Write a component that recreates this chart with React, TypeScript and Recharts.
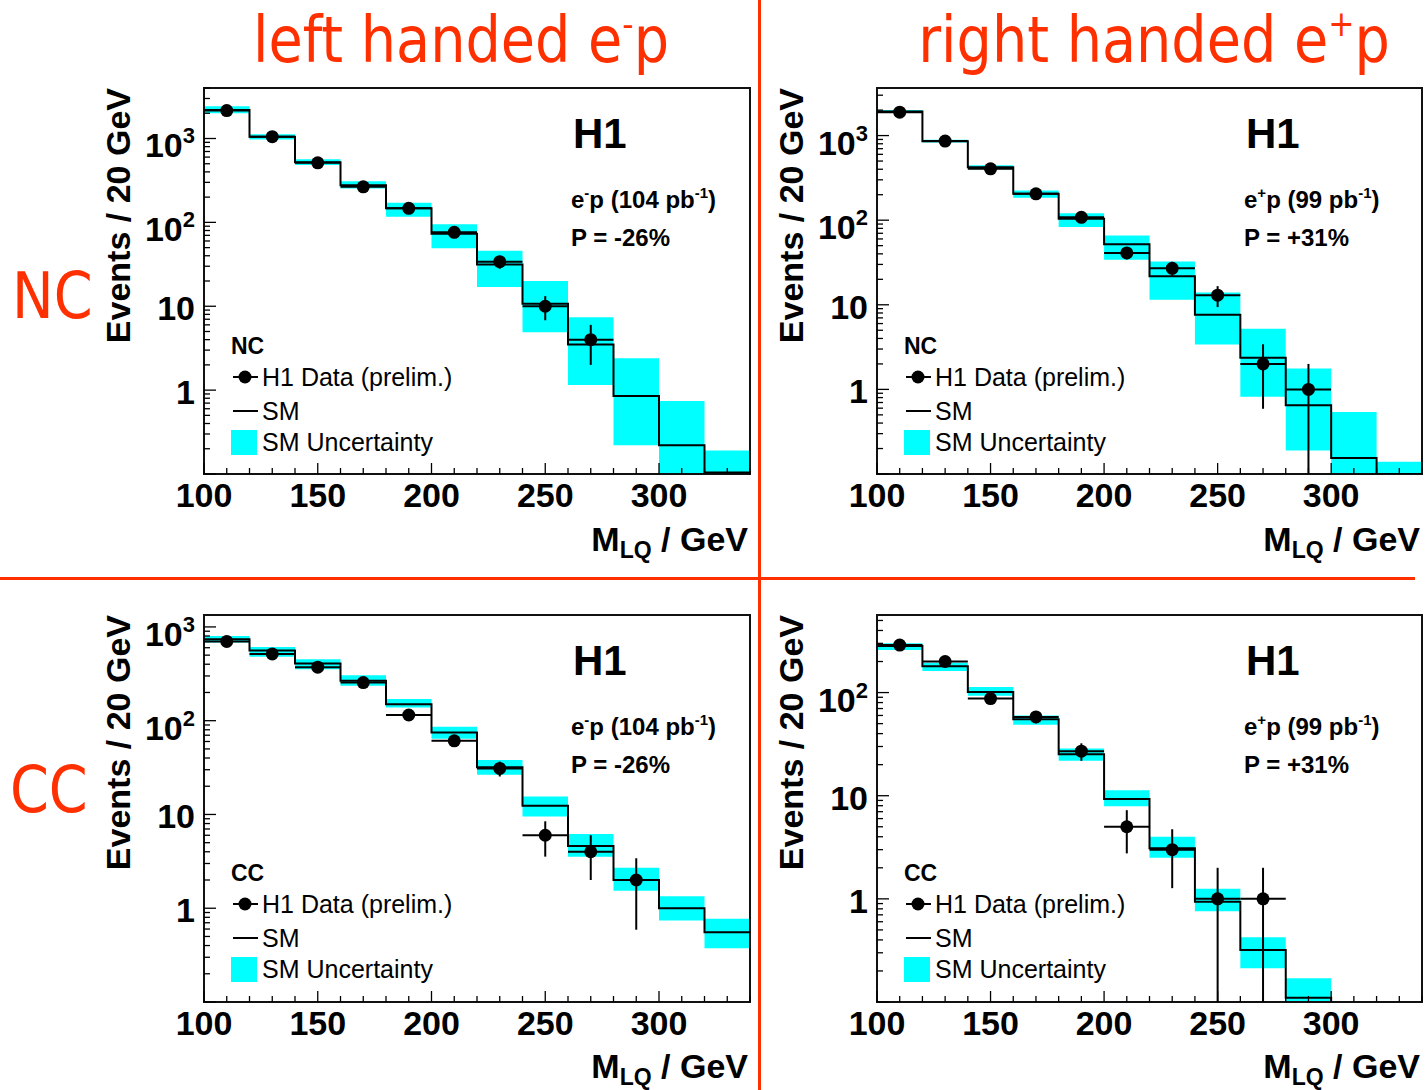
import { Area, ComposedChart, ErrorBar, Line, ReferenceArea, Scatter, XAxis, YAxis } from 'recharts';

// H1 leptoquark search: M_LQ spectra, NC/CC for left-handed e-p and right-handed e+p

const BIN_EDGES = [100, 120, 140, 160, 180, 200, 220, 240, 260, 280, 300, 320, 340];
const BIN_CENTERS = [110, 130, 150, 170, 190, 210, 230, 250, 270, 290, 310, 330];
const HALF_BIN = 10;
const X_TICKS = [100, 110, 120, 130, 140, 150, 160, 170, 180, 190, 200, 210, 220, 230, 240, 250, 260, 270, 280, 290, 300, 310, 320, 330, 340];
const X_LABELS = [100, 150, 200, 250, 300];
const LOG_DECADES = [0.1, 1, 10, 100, 1000];
const LOG_MINOR = [2, 3, 4, 5, 6, 7, 8, 9];

// NC, e-p (104 pb-1)
const ncLeftSm = [2180, 1050, 520, 278, 147, 73, 31.5, 10.7, 3.5, 0.85, 0.22, 0.104];
const ncLeftLo = [2000, 975, 482, 254, 117, 49, 17, 4.9, 1.15, 0.22, 0.05, 0.05];
const ncLeftHi = [2420, 1125, 567, 310, 171, 95, 46, 20, 7.4, 2.4, 0.74, 0.19];
const ncLeftData = [2150, 1050, 513, 265, 147, 76, 34, 10, 4];
const ncLeftErr = [[46, 46], [32, 32], [23, 23], [16, 16], [12, 12], [9, 9], [6, 6], [3.2, 3.2], [2, 2]];

// NC, e+p (99 pb-1)
const ncRightSm = [1920, 857, 423, 205, 104, 52, 21.8, 7.6, 2.37, 0.65, 0.155, 0.1];
const ncRightLo = [1850, 830, 400, 184, 83, 34, 11.5, 3.4, 0.82, 0.19, 0.05, 0.05];
const ncRightHi = [2000, 890, 445, 224, 121, 66, 32.5, 14, 5.2, 1.77, 0.54, 0.14];
const ncRightData = [1890, 860, 405, 205, 108, 41, 27, 13, 2, 1];
const ncRightErr = [[43, 43], [29, 29], [20, 20], [14, 14], [10, 10], [6.4, 6.4], [5.2, 5.2], [3.6, 3.6], [1.41, 1.41], [0.9, 1]];

// CC, e-p (104 pb-1)
const ccLeftSm = [740, 560, 407, 266, 150, 75, 31.8, 12.4, 4.6, 2.0, 1.0, 0.555];
const ccLeftLo = [681, 480, 354, 236, 138, 64, 26.5, 9.5, 3.55, 1.54, 0.74, 0.375];
const ccLeftHi = [802, 612, 453, 305, 170, 86, 38, 15.5, 6.2, 2.7, 1.34, 0.77];
const ccLeftData = [700, 515, 372, 255, 115, 61, 31, 6, 4, 2];
const ccLeftErr = [[26, 26], [23, 23], [19, 19], [16, 16], [11, 11], [8, 8], [5.6, 5.6], [2.45, 2.45], [2, 2], [1.41, 1.41]];

// CC, e+p (99 pb-1)
const ccRightSm = [283, 180, 101, 55, 25.3, 9.3, 3.1, 0.94, 0.32, 0.11, 0.08, 0.08];
const ccRightLo = [259, 162, 93, 48.7, 21.8, 7.9, 2.5, 0.76, 0.213, 0.05, 0.05, 0.05];
const ccRightHi = [300, 195, 113.5, 60, 28.7, 11.3, 4.0, 1.25, 0.425, 0.17, 0.05, 0.05];
const ccRightData = [289, 200, 87.5, 58, 27, 5, 3, 1, 1];
const ccRightErr = [[17, 17], [14, 14], [9.4, 9.4], [7.6, 7.6], [5.2, 5.2], [2.24, 2.24], [1.73, 1.73], [0.9, 1], [0.9, 1]];

const ROOT_FONT = '"Liberation Sans", Arial, Helvetica, sans-serif';
const SLIDE_FONT = '"DejaVu Sans", Verdana, sans-serif';
const SLIDE_RED = '#ff3000';
const BAND = '#00ffff';

// container tops leave 28px headroom above the frame so tick labels are not cut
const PANELS = [
  { id: 'ncl', left: 95, top: 60, width: 660, height: 515, xAxisH: 101, right: 5, yMax: 4000, channel: 'NC', charge: '-', lumi: '104', pol: '-26%', sm: ncLeftSm, lo: ncLeftLo, hi: ncLeftHi, data: ncLeftData, err: ncLeftErr },
  { id: 'ncr', left: 768, top: 60, width: 657, height: 515, xAxisH: 101, right: 3, yMax: 3650, channel: 'NC', charge: '+', lumi: '99', pol: '+31%', sm: ncRightSm, lo: ncRightLo, hi: ncRightHi, data: ncRightData, err: ncRightErr },
  { id: 'ccl', left: 95, top: 587, width: 660, height: 503, xAxisH: 88, right: 5, yMax: 1340, channel: 'CC', charge: '-', lumi: '104', pol: '-26%', sm: ccLeftSm, lo: ccLeftLo, hi: ccLeftHi, data: ccLeftData, err: ccLeftErr },
  { id: 'ccr', left: 768, top: 587, width: 657, height: 503, xAxisH: 88, right: 3, yMax: 565, channel: 'CC', charge: '+', lumi: '99', pol: '+31%', sm: ccRightSm, lo: ccRightLo, hi: ccRightHi, data: ccRightData, err: ccRightErr },
];

const Y_AXIS_W = 109;
const PLOT_TOP = 28;

function XTick(props: any) {
  const { x, y, payload } = props;
  const major = X_LABELS.includes(payload.value);
  return (
    <g>
      <line x1={x} x2={x} y1={y} y2={y - (major ? 11 : 6)} stroke="#000" strokeWidth={1.3} />
      {major && (
        <text x={x} y={y + 33} textAnchor="middle" fontSize={34} fontWeight="bold" fill="#000" fontFamily={ROOT_FONT}>
          {payload.value}
        </text>
      )}
    </g>
  );
}

function YTick(props: any) {
  const { x, y, payload } = props;
  const v = payload.value;
  const e = Math.round(Math.log10(v));
  const decade = Math.abs(Math.log10(v) - e) < 1e-6;
  return (
    <g>
      <line x1={x} x2={x + (decade ? 12 : 6)} y1={y} y2={y} stroke="#000" strokeWidth={1.3} />
      {decade && e >= 0 && (
        <text x={x - 9} y={y + (e <= 1 ? 14 : 19)} textAnchor="end" fontSize={34} fontWeight="bold" fill="#000" fontFamily={ROOT_FONT}>
          {e <= 1 ? String(v) : (
            <>
              10<tspan fontSize={22} dy={-14}>{e}</tspan>
            </>
          )}
        </text>
      )}
    </g>
  );
}

function DataDot(props: any) {
  return <circle cx={props.cx} cy={props.cy} r={6.5} fill="#000" />;
}

function Panel({ p }: { p: (typeof PANELS)[number] }) {
  const last = p.sm.length - 1;
  const smRows = BIN_EDGES.map((x, i) => ({ x, sm: p.sm[Math.min(i, last)] }));
  const bandRows = BIN_EDGES.map((x, i) => ({ x, band: [p.lo[Math.min(i, last)], p.hi[Math.min(i, last)]] }));
  const dataRows = p.data.map((y, i) => ({ x: BIN_CENTERS[i], y, yErr: p.err[i], xErr: HALF_BIN }));
  const yTicks = LOG_DECADES.flatMap((d) => [d, ...LOG_MINOR.map((m) => d * m)]).filter((v) => v >= 0.1 && v <= p.yMax);
  const plotRight = p.width - p.right;
  const shift = PLOT_TOP - 8;

  return (
    <div style={{ position: 'absolute', left: p.left, top: p.top, width: p.width, height: p.height }}>
      <ComposedChart width={p.width} height={p.height} margin={{ top: PLOT_TOP, right: p.right, bottom: 0, left: 0 }} style={{ fontFamily: ROOT_FONT }}>
        <XAxis
          dataKey="x"
          type="number"
          domain={[100, 340]}
          ticks={X_TICKS}
          interval={0}
          tick={XTick}
          tickLine={false}
          tickSize={0}
          tickMargin={0}
          axisLine={false}
          height={p.xAxisH}
          allowDataOverflow
        />
        <YAxis
          type="number"
          scale="log"
          domain={[0.1, p.yMax]}
          ticks={yTicks}
          interval={0}
          tick={YTick}
          tickLine={false}
          tickSize={0}
          tickMargin={0}
          axisLine={false}
          width={Y_AXIS_W}
          allowDataOverflow
        />
        <Area data={bandRows} dataKey="band" type="stepAfter" fill={BAND} fillOpacity={1} stroke="none" dot={false} activeDot={false} isAnimationActive={false} />
        <Line data={smRows} dataKey="sm" type="stepAfter" stroke="#000" strokeWidth={2} dot={false} activeDot={false} isAnimationActive={false} />
        <Scatter data={dataRows} dataKey="y" shape={DataDot} isAnimationActive={false}>
          <ErrorBar dataKey="yErr" direction="y" width={0} stroke="#000" strokeWidth={2} isAnimationActive={false} />
          <ErrorBar dataKey="xErr" direction="x" width={0} stroke="#000" strokeWidth={2} isAnimationActive={false} />
        </Scatter>
        <ReferenceArea x1={100} x2={340} y1={0.1} y2={p.yMax} fill="none" stroke="#111" strokeWidth={2} ifOverflow="visible" />
      </ComposedChart>

      {/* ROOT-style annotations: axis titles, H1 tag, in-pad legend (coords relative to frame top - 8) */}
      <svg width={p.width} height={p.height - shift} style={{ position: 'absolute', left: 0, top: shift, pointerEvents: 'none' }} fontFamily={ROOT_FONT} fill="#000">
        <text transform="translate(35, 8) rotate(-90)" textAnchor="end" fontSize={34} fontWeight="bold">
          Events / 20 GeV
        </text>
        <text x={plotRight - 2} y={471} textAnchor="end" fontSize={34} fontWeight="bold">
          M<tspan fontSize={23} dy={7}>LQ</tspan>
          <tspan dy={-7}>{'\u00a0/ GeV'}</tspan>
        </text>

        <text x={478} y={68} fontSize={42} fontWeight="bold">H1</text>
        <text x={476} y={128} fontSize={24} fontWeight="bold">
          e<tspan fontSize={15} dy={-10}>{p.charge}</tspan>
          <tspan dy={10}>p ({p.lumi} pb</tspan>
          <tspan fontSize={15} dy={-10}>-1</tspan>
          <tspan dy={10}>)</tspan>
        </text>
        <text x={476} y={166} fontSize={24} fontWeight="bold">P = {p.pol}</text>

        <text x={136} y={274} fontSize={23} fontWeight="bold">{p.channel}</text>
        <line x1={138} x2={163} y1={297} y2={297} stroke="#000" strokeWidth={2} />
        <circle cx={150} cy={297} r={6.5} fill="#000" />
        <text x={167} y={306} fontSize={25}>H1 Data (prelim.)</text>
        <line x1={138} x2={163} y1={331} y2={331} stroke="#000" strokeWidth={2} />
        <text x={167} y={340} fontSize={25}>SM</text>
        <rect x={136} y={350} width={26} height={25} fill={BAND} />
        <text x={167} y={371} fontSize={25}>SM Uncertainty</text>
      </svg>
    </div>
  );
}

export default function App() {
  return (
    <div style={{ position: 'absolute', left: 0, top: 0, width: 1425, height: 1090, background: '#fff', overflow: 'hidden' }}>
      {PANELS.map((p) => (
        <Panel key={p.id} p={p} />
      ))}

      {/* slide decorations */}
      <svg width={1425} height={1090} style={{ position: 'absolute', left: 0, top: 0, pointerEvents: 'none' }} fontFamily={SLIDE_FONT} fill={SLIDE_RED}>
        <line x1={759.5} x2={759.5} y1={0} y2={1090} stroke={SLIDE_RED} strokeWidth={3} />
        <line x1={0} x2={1415} y1={578.5} y2={578.5} stroke={SLIDE_RED} strokeWidth={3} />
        <text transform="translate(461, 62) scale(0.87, 1)" textAnchor="middle" fontSize={64}>
          left handed e<tspan fontSize={36} dy={-26}>-</tspan>
          <tspan dy={26}>p</tspan>
        </text>
        <text transform="translate(1154, 62) scale(0.87, 1)" textAnchor="middle" fontSize={64}>
          right handed e<tspan fontSize={36} dy={-26}>+</tspan>
          <tspan dy={26}>p</tspan>
        </text>
        <text transform="translate(12, 318) scale(0.87, 1)" fontSize={64}>NC</text>
        <text transform="translate(10, 812) scale(0.87, 1)" fontSize={64}>CC</text>
      </svg>
    </div>
  );
}
